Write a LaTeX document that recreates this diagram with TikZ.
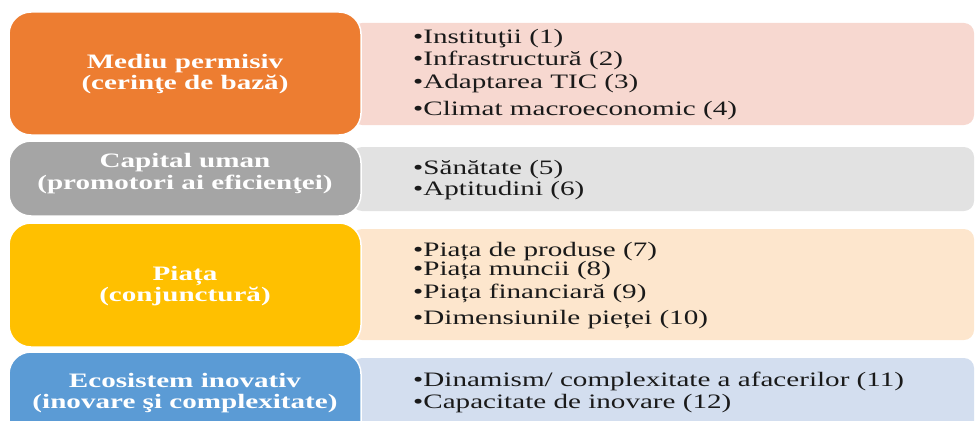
\documentclass[tikz,border=0pt]{standalone}
\usepackage{fontspec}
\setmainfont[FakeStretch=1.42]{Liberation Serif}
\definecolor{orangeA}{HTML}{ED7D31}
\definecolor{grayA}{HTML}{A5A5A5}
\definecolor{yellowA}{HTML}{FFC000}
\definecolor{blueA}{HTML}{5B9BD5}
\definecolor{orangeL}{HTML}{F7D8D0}
\definecolor{grayL}{HTML}{E2E2E2}
\definecolor{yellowL}{HTML}{FDE6CD}
\definecolor{blueL}{HTML}{D3DEEF}
\definecolor{textc}{HTML}{1A1A1A}
\begin{document}
\begin{tikzpicture}[x=1pt,y=-1pt,
  lbox/.style={rounded corners=22pt, draw=white, line width=1.5pt, inner sep=0pt, minimum width=352pt},
  rbox/.style={rounded corners=10pt, inner sep=0pt, minimum width=622pt},
  ttl/.style={font=\fontsize{20.5}{21}\selectfont\bfseries, text=white, anchor=base, inner sep=0pt},
  itm/.style={font=\fontsize{20.5}{21}\selectfont, text=textc, anchor=base west, inner sep=0pt}]
\useasboundingbox (0,0) rectangle (976,420);
\clip (0,0) rectangle (976,420);
% right boxes
\node[rbox, fill=orangeL, minimum height=102pt] (r1) at (663,74) {};
\node[rbox, fill=grayL, minimum height=64pt] (r2) at (663,179) {};
\node[rbox, fill=yellowL, minimum height=111pt] (r3) at (663,284.5) {};
\node[rbox, fill=blueL, minimum height=107pt] (r4) at (663,411.5) {};
% left boxes
\node[lbox, fill=orangeA, minimum height=123pt] (l1) at (185,73.5) {};
\node[lbox, fill=grayA, minimum height=75pt] (l2) at (185,178.5) {};
\node[lbox, fill=yellowA, minimum height=124pt] (l3) at (185,285) {};
\node[lbox, fill=blueA, minimum height=123pt] (l4) at (185,413.5) {};
% titles
\node[ttl] (t1a) at (185,68) {Mediu permisiv};
\node[ttl] (t1b) at (185,89) {(cerinţe de bază)};
\node[ttl] (t2a) at (185,167) {Capital uman};
\node[ttl] (t2b) at (185,189) {(promotori ai eficienţei)};
\node[ttl] (t3a) at (185,280) {Piața};
\node[ttl] (t3b) at (185,301) {(conjunctură)};
\node[ttl] (t4a) at (185,387) {Ecosistem inovativ};
\node[ttl] (t4b) at (185,408) {(inovare şi complexitate)};
% items
\node[itm] (i1) at (413,44) {•Instituţii (1)};
\node[itm] (i2) at (413,65) {•Infrastructură (2)};
\node[itm] (i3) at (413,88) {•Adaptarea TIC (3)};
\node[itm] (i4) at (413,115) {•Climat macroeconomic (4)};
\node[itm] (i5) at (413,174) {•Sănătate (5)};
\node[itm] (i6) at (413,195) {•Aptitudini (6)};
\node[itm] (i7) at (413,256) {•Piața de produse (7)};
\node[itm] (i8) at (413,275) {•Piața muncii (8)};
\node[itm] (i9) at (413,298) {•Piața financiară (9)};
\node[itm] (i10) at (413,324) {•Dimensiunile pieței (10)};
\node[itm] (i11) at (413,386) {•Dinamism/ complexitate a afacerilor (11)};
\node[itm] (i12) at (413,408) {•Capacitate de inovare (12)};
\end{tikzpicture}
\end{document}
